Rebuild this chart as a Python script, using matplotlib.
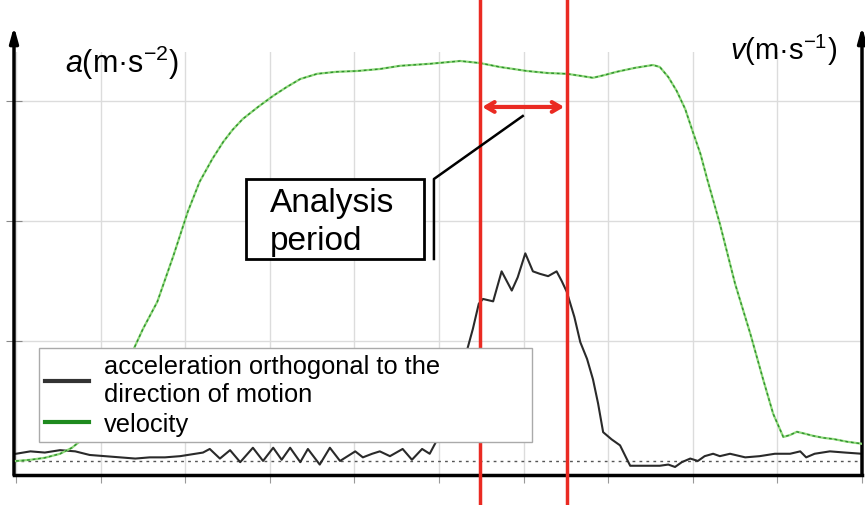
import numpy as np
import matplotlib
matplotlib.use("Agg")
import matplotlib.pyplot as plt
from matplotlib.patches import Rectangle

plt.rcParams['font.family'] = ['Liberation Sans', 'DejaVu Sans']
plt.rcParams['mathtext.fontset'] = 'custom'
plt.rcParams['mathtext.rm'] = 'Liberation Sans'
plt.rcParams['mathtext.it'] = 'Liberation Sans:italic'

# acceleration orthogonal to the direction of motion (left axis, m/s^2)
acc_t = [0.00, 0.17, 0.34, 0.52, 0.70, 0.87, 1.05, 1.23, 1.41, 1.58, 1.76, 1.94,
         2.12, 2.21, 2.29, 2.41, 2.53, 2.65, 2.80, 2.92, 3.04, 3.14, 3.24, 3.36,
         3.45, 3.59, 3.71, 3.83, 4.01, 4.10, 4.21, 4.30, 4.42, 4.57, 4.68, 4.80,
         4.89, 4.98, 5.07, 5.19, 5.33, 5.40, 5.47, 5.52, 5.64, 5.74, 5.86, 5.93,
         6.02, 6.11, 6.19, 6.29, 6.39, 6.45, 6.51, 6.60, 6.67, 6.75, 6.82, 6.88,
         6.94, 7.04, 7.14, 7.21, 7.26, 7.38, 7.49, 7.61, 7.71, 7.79, 7.87, 7.97,
         8.06, 8.14, 8.24, 8.32, 8.44, 8.62, 8.79, 8.97, 9.15, 9.27, 9.34, 9.44,
         9.62, 9.80, 10.00]
acc = [0.06, 0.08, 0.07, 0.09, 0.08, 0.05, 0.04, 0.03, 0.02, 0.03, 0.03, 0.04,
       0.06, 0.07, 0.10, 0.02, 0.09, -0.01, 0.11, 0.00, 0.11, 0.01, 0.11, -0.01,
       0.10, -0.03, 0.11, 0.00, 0.08, 0.03, 0.06, 0.08, 0.04, 0.10, 0.01, 0.10,
       0.06, 0.18, 0.43, 0.68, 0.92, 1.10, 1.31, 1.35, 1.33, 1.58, 1.42, 1.53,
       1.73, 1.58, 1.56, 1.54, 1.58, 1.50, 1.41, 1.20, 0.99, 0.85, 0.68, 0.48,
       0.24, 0.18, 0.13, 0.03, -0.04, -0.04, -0.04, -0.04, -0.03, -0.05, -0.01, 0.02,
       0.00, 0.04, 0.06, 0.04, 0.06, 0.03, 0.04, 0.06, 0.06, 0.08, 0.03, 0.06,
       0.08, 0.07, 0.06]

# velocity (right axis, m/s)
vel_t = [0.00, 0.17, 0.34, 0.52, 0.66, 0.79, 0.99, 1.17, 1.38, 1.50, 1.67, 1.86,
         2.03, 2.17, 2.32, 2.45, 2.56, 2.68, 2.86, 3.04, 3.20, 3.36, 3.56, 3.79,
         4.03, 4.30, 4.54, 4.89, 5.25, 5.48, 5.72, 6.04, 6.28, 6.51, 6.67, 6.82,
         6.96, 7.10, 7.32, 7.53, 7.61, 7.71, 7.81, 7.91, 8.00, 8.09, 8.17, 8.32,
         8.50, 8.68, 8.83, 8.95, 9.07, 9.15, 9.23, 9.33, 9.42, 9.54, 9.66, 9.83,
         10.00]
vel = [0.00, 0.03, 0.08, 0.18, 0.33, 0.55, 1.18, 1.93, 2.75, 3.30, 3.98, 5.13,
       6.23, 6.98, 7.55, 7.98, 8.28, 8.55, 8.85, 9.13, 9.35, 9.55, 9.68, 9.73,
       9.75, 9.80, 9.88, 9.93, 10.00, 9.95, 9.85, 9.75, 9.70, 9.68, 9.63, 9.58,
       9.65, 9.73, 9.83, 9.90, 9.85, 9.60, 9.25, 8.80, 8.23, 7.68, 7.05, 5.93,
       4.43, 3.18, 2.05, 1.18, 0.60, 0.65, 0.73, 0.68, 0.63, 0.58, 0.55, 0.48,
       0.43]

period_start, period_end = 5.48, 6.51

fig = plt.figure(figsize=(8.65, 5.06), dpi=100)
ax = fig.add_axes([14/865, 30/506, 848/865, 423/506])
ax.set_xlim(-0.024, 10)
ax.set_ylim(-0.117, 3.408)
ax.set_xticks(range(11))
ax.set_yticks([1, 2, 3])
ax.set_xticklabels([])
ax.set_yticklabels([])
ax.grid(color='#dcdcdc', lw=1)
ax.set_axisbelow(True)
ax.tick_params(axis='x', direction='out', length=6, color='#999999')
ax.tick_params(axis='y', direction='inout', length=12, color='#888888')
for s in ax.spines.values():
    s.set_visible(False)

ax.axhline(0, color='#555555', lw=1, ls=(0, (2, 3)))
ax.plot(acc_t, acc, color='#2a2a2a', lw=1.5)

# axes lines with arrows
ax.plot([0, 1], [0, 0], transform=ax.transAxes, color='black', lw=2.5,
        clip_on=False, zorder=5)
for xf in (0, 1):
    ax.annotate('', xy=(xf, 1.06), xytext=(xf, 0), xycoords='axes fraction',
                arrowprops=dict(arrowstyle='-|>,head_length=0.9,head_width=0.25',
                                color='black', lw=2.5, shrinkA=0, shrinkB=0),
                annotation_clip=False)

ax2 = ax.twinx()
ax2.set_ylim(-0.35, 10.225)
ax2.set_yticks([])
for s in ax2.spines.values():
    s.set_visible(False)
ax2.plot(vel_t, vel, color='#8fd97a', lw=1.6)
ax2.plot(vel_t, vel, color='#2f8f2f', lw=1.0, ls=(0, (2, 2)))

# analysis period markers
for xv in (period_start, period_end):
    ax2.plot([xv, xv], [-0.075, 1.13], transform=ax2.get_xaxis_transform(),
             color='#ea2a22', lw=2.5, clip_on=False, zorder=6)
ax.annotate('', xy=(period_start + 0.03, 2.95), xytext=(period_end - 0.03, 2.95),
            arrowprops=dict(arrowstyle='<->,head_length=0.6,head_width=0.35',
                            color='#ea2a22', lw=3, shrinkA=0, shrinkB=0))

# callout box
ax2.plot([5.99, 4.94, 4.94], [8.625, 7.05, 5.05], color='black', lw=1.8, zorder=7)
ax2.add_patch(Rectangle((2.72, 5.05), 2.10, 2.0, facecolor='white',
                        edgecolor='black', lw=2, zorder=7))
ax2.text(3.0, 6.25, 'Analysis', fontsize=24, va='baseline', zorder=8)
ax2.text(3.0, 5.30, 'period', fontsize=24, va='baseline', zorder=8)

# legend
h1, = ax2.plot([], [], color='#333333', lw=3)
h2, = ax2.plot([], [], color='#1e8a1e', lw=3)
leg = ax2.legend([h1, h2], ['acceleration orthogonal to the\ndirection of motion',
                            'velocity'],
                 loc='upper left', bbox_to_anchor=(39/865, 1 - 354/506, 493/865, 0.01),
                 bbox_transform=fig.transFigure, mode='expand', borderaxespad=0,
                 fontsize=18.3, handlelength=1.72, handletextpad=0.6,
                 borderpad=0.25, labelspacing=0.2, fancybox=False, framealpha=1,
                 edgecolor='#aaaaaa')
leg.set_zorder(20)
leg.get_frame().set_linewidth(1)
for t in leg.get_texts():
    t.set_linespacing(1.22)

# axis labels
fig.text(65/865, 1 - 63/506, '$a$(m·s$^{-2}$)', fontsize=22, va='center', ha='left')
fig.text(730/865, 1 - 50/506, '$v$(m·s$^{-1}$)', fontsize=21, va='center', ha='left')

fig.savefig('out.png', dpi=100)
